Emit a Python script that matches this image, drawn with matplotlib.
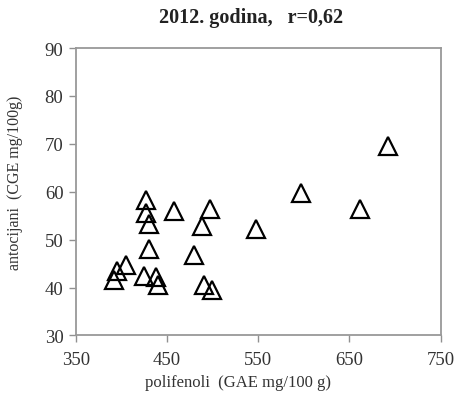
import matplotlib
matplotlib.use("Agg")
import matplotlib.pyplot as plt

polifenoli = [392, 395, 405, 425, 427, 427, 430, 430, 438, 440,
              458, 480, 488, 490, 497, 499, 548, 597, 662, 692]
antocijani = [41.5, 43.5, 44.7, 42.5, 58.3, 55.6, 53.2, 48.0, 42.2, 40.6,
              56.0, 46.9, 52.9, 40.5, 56.3, 39.5, 52.3, 59.7, 56.3, 69.6]

xticks = [350, 450, 550, 650, 750]
yticks = [30, 40, 50, 60, 70, 80, 90]

plt.rcParams['font.family'] = ['Liberation Serif', 'DejaVu Serif']

fig = plt.figure(figsize=(4.57, 4.02), dpi=100)
ax = fig.add_axes([0.1663, 0.163, 0.7977, 0.715])

ax.plot(polifenoli, antocijani, linestyle='none', marker='^', markersize=12.5,
        markerfacecolor='none', markeredgecolor='black', markeredgewidth=1.6)

ax.set_xlim(350, 750)
ax.set_ylim(30, 90)
ax.set_xticks(xticks)
ax.set_yticks(yticks)
ax.tick_params(direction='out', length=5, width=1, color='#909090',
               labelsize=13.5, labelcolor='#333333')
ax.tick_params(axis='x', pad=6)
ax.tick_params(axis='y', pad=4)
for s in ax.spines.values():
    s.set_color('#999999')
    s.set_linewidth(1.3)

fig.text(251 / 457, 1 - 18 / 402, '2012. godina,   r=0,62', fontsize=14.5,
         fontweight='bold', color='#222222', ha='center', va='center')
ax.set_xlabel('polifenoli  (GAE mg/100 g)', fontsize=12, color='#333333')
ax.xaxis.set_label_coords((238 - 76) / 364, -(383 - 336.5) / 287.5)
ax.xaxis.label.set_va('center')
ax.set_ylabel('antocijani  (CGE mg/100g)', fontsize=11.5, color='#333333')
ax.yaxis.set_label_coords((15 - 76) / 364, (336.5 - 183) / 287.5)
ax.yaxis.label.set_va('center')

fig.savefig('out.png', dpi=100)
